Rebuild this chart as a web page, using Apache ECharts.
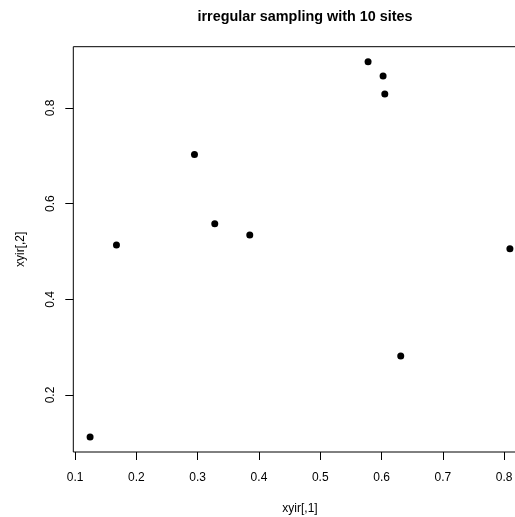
<!DOCTYPE html>
<html>
<head>
<meta charset="utf-8">
<script src="https://cdn.jsdelivr.net/npm/echarts@6/dist/echarts.min.js"></script>
<style>html,body{margin:0;padding:0;background:#fff}#c{width:515px;height:517px}</style>
</head>
<body>
<div id="c"></div>
<script>
const xValues = [0.578, 0.6025, 0.6053, 0.2948, 0.3279, 0.385, 0.1675, 0.8094, 0.6313, 0.1245];
const yValues = [0.8968, 0.8669, 0.8293, 0.703, 0.5582, 0.5344, 0.5135, 0.506, 0.2815, 0.1122];
const xTicks = [0.1, 0.2, 0.3, 0.4, 0.5, 0.6, 0.7, 0.8];
const yTicks = [0.2, 0.4, 0.6, 0.8];
const titleText = 'irregular sampling with 10 sites';
const xName = 'xyir[,1]';
const yName = 'xyir[,2]';

const FONT = '"Liberation Sans", Arial, Helvetica, sans-serif';
const chart = echarts.init(document.getElementById('c'), null, {renderer: 'canvas'});

// R default 4% range extension
function ext(arr) {
  const mn = Math.min(...arr), mx = Math.max(...arr), r = mx - mn;
  return [mn - 0.04 * r, mx + 0.04 * r];
}
const [xmin, xmax] = ext(xValues);
const [ymin, ymax] = ext(yValues);

chart.setOption({
  animation: false,
  backgroundColor: '#fff',
  title: {
    text: titleText,
    left: 300, textAlign: 'center',
    top: 5,
    textStyle: {fontFamily: FONT, fontSize: 14.4, fontWeight: 'bold', color: '#000'}
  },
  grid: {
    left: 73.3, top: 46.7, width: 453.4, height: 405.3,
    outerBoundsMode: 'none', containLabel: false,
    show: true, borderColor: '#000', borderWidth: 1, backgroundColor: 'transparent'
  },
  xAxis: {
    type: 'value', min: xmin, max: xmax,
    name: xName, nameLocation: 'middle', nameGap: 51,
    nameTextStyle: {fontFamily: FONT, fontSize: 12, color: '#000'},
    splitLine: {show: false},
    axisLine: {show: false},
    axisTick: {show: true, inside: false, length: 8, lineStyle: {color: '#000', width: 1}, customValues: xTicks},
    axisLabel: {show: true, margin: 20, fontFamily: FONT, fontSize: 12, color: '#000', customValues: xTicks,
      formatter: v => String(Math.round(v * 10) / 10), showMinLabel: true, showMaxLabel: true, hideOverlap: false}
  },
  yAxis: {
    type: 'value', min: ymin, max: ymax,
    name: yName, nameLocation: 'middle', nameGap: 47, nameRotate: 90,
    nameTextStyle: {fontFamily: FONT, fontSize: 12, color: '#000'},
    splitLine: {show: false},
    axisLine: {show: false},
    axisTick: {show: true, inside: false, length: 8, lineStyle: {color: '#000', width: 1}, customValues: yTicks},
    axisLabel: {show: true, margin: 17, rotate: 90, fontFamily: FONT, fontSize: 12, color: '#000', customValues: yTicks,
      formatter: v => String(Math.round(v * 10) / 10), hideOverlap: false}
  },
  series: [{
    type: 'scatter',
    data: xValues.map((x, i) => [x, yValues[i]]),
    symbol: 'circle', symbolSize: 7,
    itemStyle: {color: '#000', opacity: 1},
    clip: false
  }]
});
</script>
</body>
</html>
